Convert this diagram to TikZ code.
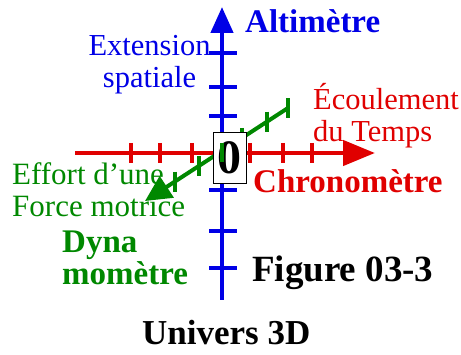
\documentclass[tikz,border=0pt]{standalone}
\usepackage{fontspec}
\setmainfont{Liberation Serif}
\usetikzlibrary{positioning,arrows.meta}
\definecolor{UBlue}{HTML}{0000E6}
\definecolor{URed}{HTML}{E00000}
\definecolor{UGreen}{HTML}{008800}

\begin{document}
\begin{tikzpicture}[
    x=1pt, y=-1pt,
    axe/.style={line width=4.5pt},
    tick/.style={line width=4pt},
    lbl/.style={inner sep=0pt, anchor=base west, align=left,
      font=\fontsize{30.5}{32}\selectfont},
    blbl/.style={lbl, font=\fontsize{33}{32}\selectfont\bfseries}
  ]
  \useasboundingbox (0,0) rectangle (461,355);

  % extremites des axes
  \coordinate (O) at (222,151);
  \coordinate (altBot) at (222,300);
  \coordinate (altTop) at (222,7);
  \coordinate (chrL) at (75,153);
  \coordinate (chrR) at (375,153);
  \coordinate (dynH) at (288,108);
  \coordinate (dynB) at (145,201);

  % axe vertical : altimetre
  \draw[axe, UBlue, -{Triangle[length=26pt,width=22pt]}] (altBot) -- (altTop);
  \foreach \y in {53,87,116,190,231,268}
    \draw[tick, UBlue] (209,\y) -- (237,\y);

  % axe horizontal : chronometre
  \draw[axe, URed, -{Triangle[length=32pt,width=25pt]}] (chrL) -- (chrR);
  \foreach \x in {131,160,192,250,283,312}
    \draw[tick, URed] (\x,143) -- (\x,163);

  % axe oblique : dynamometre
  \draw[axe, line width=4pt, UGreen, -{Triangle[length=26pt,width=25pt]}] (dynH) -- (dynB);
  \foreach \x in {288,267,242,199,175}
    \draw[tick, UGreen] (\x,{151+(222-\x)*0.65-10}) -- (\x,{151+(222-\x)*0.65+10});

  % origine
  \node[draw=black, fill=white, thin, minimum width=33pt, minimum height=51pt,
    inner sep=0pt, font=\fontsize{48}{48}\selectfont\bfseries] (orig) at (229.5,157.5) {0};
  \draw[tick, UGreen] (222,143) -- (222,162);

  % etiquettes (base = derniere ligne)
  \node[blbl, UBlue] (alt) at (245,33) {Altimètre};
  \node[lbl, UBlue, anchor=base, align=center] (ext) at (149.5,88) {Extension\\spatiale};
  \node[lbl, URed] (ecoul) at (313,142) {Écoulement\\du Temps};
  \node[blbl, URed] (chrono) at (253,193) {Chronomètre};
  \node[lbl, UGreen, font=\fontsize{31}{32}\selectfont] (effort) at (12,217) {Effort d’une\\Force motrice};
  \node[blbl, UGreen] (dyna) at (62,285) {Dyna\\momètre};
  \node[blbl, font=\fontsize{37}{36}\selectfont\bfseries] (fig) at (252,282) {Figure 03-3};
  \node[blbl, font=\fontsize{35}{36}\selectfont\bfseries] (univ) at (142,345) {Univers 3D};
\end{tikzpicture}
\end{document}
